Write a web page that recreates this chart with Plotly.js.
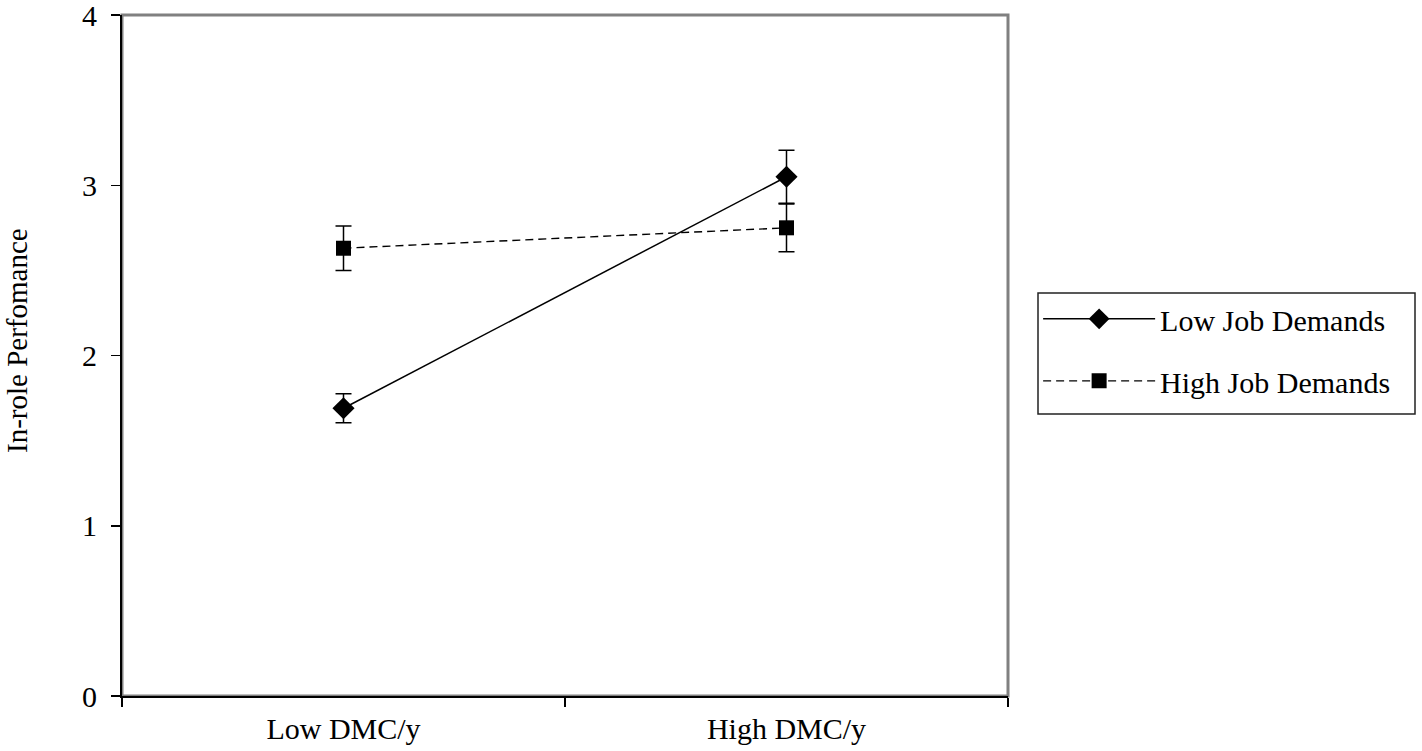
<!DOCTYPE html>
<html>
<head>
<meta charset="utf-8">
<script src="https://cdn.plot.ly/plotly-3.0.1.min.js"></script>
<style>html,body{margin:0;padding:0;background:#fff;}#chart{width:1422px;height:751px;}</style>
</head>
<body>
<div id="chart"></div>
<script>
const categories = ["Low DMC/y", "High DMC/y"];
const lowJobDemands = [1.69, 3.05];
const lowJobErr = [0.085, 0.155];
const highJobDemands = [2.63, 2.75];
const highJobErr = [0.13, 0.14];
const yTicks = [0, 1, 2, 3, 4];
const yTitle = "In-role Perfomance";

const font = {family: "Liberation Serif, Times New Roman, serif", color: "#000"};

const traces = [
  {
    x: categories, y: lowJobDemands, name: "Low Job Demands", legendgroup: "a",
    type: "scatter", mode: "lines+markers",
    line: {color: "#000", width: 1.5, dash: "solid"},
    marker: {symbol: "diamond", size: 17, color: "#000"},
    error_y: {type: "data", array: lowJobErr, visible: true, color: "#000", thickness: 1.5, width: 8}
  },
  {
    x: categories, y: highJobDemands, name: "High Job Demands", legendgroup: "b",
    type: "scatter", mode: "lines+markers",
    line: {color: "#000", width: 1.4, dash: "8px,5px"},
    marker: {symbol: "square", size: 15, color: "#000"},
    error_y: {type: "data", array: highJobErr, visible: true, color: "#000", thickness: 1.5, width: 8}
  }
];

const W = 886, H = 681;
const layout = {
  width: 1422, height: 751,
  margin: {l: 122, r: 414, t: 15, b: 55},
  paper_bgcolor: "#fff", plot_bgcolor: "#fff",
  font: Object.assign({size: 30}, font),
  showlegend: true,
  legend: {
    x: 1.034, y: 0.592, xanchor: "left", yanchor: "top",
    borderwidth: 0, bgcolor: "rgba(0,0,0,0)",
    font: Object.assign({size: 30}, font),
    itemwidth: 112, tracegroupgap: 20, traceorder: "grouped"
  },
  xaxis: {
    type: "category", range: [-0.5, 1.5],
    tickson: "boundaries", ticks: "outside", ticklen: 9, tickwidth: 1.5, tickcolor: "#000",
    showline: true, linecolor: "#000", linewidth: 2, showgrid: false, zeroline: false,
    tickfont: Object.assign({size: 30}, font), ticklabelstandoff: 5, fixedrange: true
  },
  yaxis: {
    range: [0, 4], tickvals: yTicks, ticktext: yTicks.map(String),
    ticks: "outside", ticklen: 9, tickwidth: 1.5, tickcolor: "#000",
    showline: true, linecolor: "#000", linewidth: 2, showgrid: false, zeroline: false,
    tickfont: Object.assign({size: 30}, font), ticklabelstandoff: 8,
    ticklabeloverflow: "allow", fixedrange: true
  },
  annotations: [
    {text: yTitle, xref: "paper", yref: "paper", x: (17 - 122) / W, y: (696 - 341) / H,
     xanchor: "center", yanchor: "middle", textangle: -90, showarrow: false,
     font: Object.assign({size: 29}, font)}
  ],
  shapes: [
    {type: "rect", xref: "paper", yref: "paper", x0: 0, x1: 1, y0: 0, y1: 1,
     line: {color: "#808080", width: 3}, layer: "below"},
    {type: "rect", xref: "paper", yref: "paper",
     x0: (1038 - 122) / W, x1: (1415 - 122) / W, y0: (696 - 414) / H, y1: (696 - 293) / H,
     line: {color: "#222", width: 1.5}, layer: "below"}
  ]
};

Plotly.newPlot("chart", traces, layout, {displayModeBar: false, staticPlot: true});
</script>
</body>
</html>
